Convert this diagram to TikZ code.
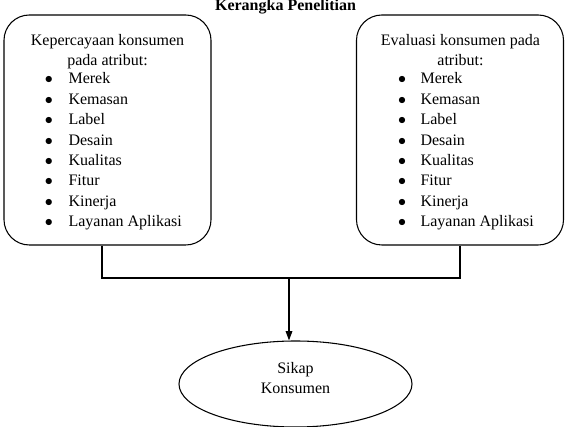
\documentclass[tikz,border=0pt]{standalone}
\usepackage{fontspec}
\setmainfont{Liberation Serif}
\usetikzlibrary{shapes.geometric, arrows.meta, positioning}

\begin{document}
\begin{tikzpicture}[x=0.75pt, y=-0.75pt, line width=0.8pt,
  every node/.style={font=\fontsize{12}{15}\selectfont, inner sep=0pt},
  frame/.style={draw, rounded corners=19pt, minimum width=155.25pt, minimum height=172.5pt},
  oval/.style={draw, ellipse, minimum width=174.75pt, minimum height=64.5pt},
  head/.style={align=center, anchor=base},
  attr/.style={anchor=base west},
  dot/.style={anchor=base}]
  \useasboundingbox (0,0) rectangle (565,427);

  % Title
  \node[anchor=base, font=\fontsize{12}{15}\selectfont\bfseries] (title) at (285.5,11) {Kerangka Penelitian};

  % Left box: kepercayaan
  \node[frame] (kepercayaan) at (107.5,130) {};
  \node[head] (kephead) at (107.5,66) {Kepercayaan konsumen\\pada atribut:};

  % Right box: evaluasi
  \node[frame] (evaluasi) at (460,130) {};
  \node[head] (evahead) at (460.5,66) {Evaluasi konsumen pada\\atribut:};

  % Attribute lists
  \foreach \atr [count=\i from 0] in {Merek, Kemasan, Label, Desain, Kualitas, Fitur, Kinerja, Layanan Aplikasi} {
    \node[dot] (kepdot\i) at (49, 84+20.4*\i) {$\bullet$};
    \node[attr] (kepattr\i) at (68, 84+20.4*\i) {\atr};
    \node[dot] (evadot\i) at (402, 84+20.4*\i) {$\bullet$};
    \node[attr] (evaattr\i) at (420, 84+20.4*\i) {\atr};
  }

  % Sikap konsumen
  \node[oval] (sikap) at (295.5,384) {};
  \node[head] (sikaplbl) at (295.5,394) {Sikap\\Konsumen};

  % Connectors
  \coordinate (joinl) at (102,278);
  \coordinate (joinr) at (460,278);
  \coordinate (joinc) at (289,278);
  \draw (kepercayaan.south -| joinl) -- (joinl) -- (joinr) -- (evaluasi.south -| joinr);
  \draw[-{Triangle[width=5pt,length=7pt]}] (joinc) -- (joinc |- sikap.north);
\end{tikzpicture}
\end{document}
